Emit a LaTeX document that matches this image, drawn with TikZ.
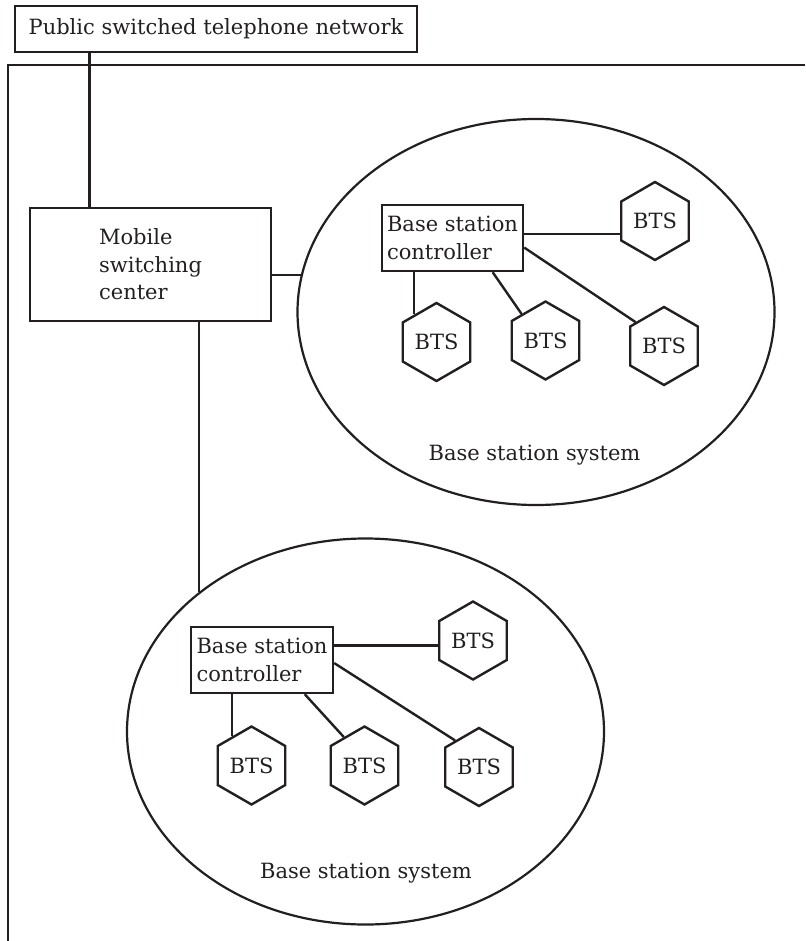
\documentclass[tikz,border=0pt]{standalone}
\usepackage{fontspec}
\setmainfont{DejaVu Serif}
\usetikzlibrary{shapes.geometric,calc}
\definecolor{ink}{RGB}{35,31,32}
\begin{document}
\begin{tikzpicture}[x=1pt,y=-1pt,
  every node/.style={text=ink, font=\fontsize{21}{27.5}\selectfont},
  box/.style={draw=ink, line width=2.4pt, rectangle, inner sep=0pt, align=left},
  bts/.style={draw=ink, line width=2.4pt, regular polygon, regular polygon sides=6,
    shape border rotate=30, minimum size=78pt, inner sep=0pt},
  link/.style={draw=ink, line width=2.4pt},
  bss/.style={draw=ink, line width=2.2pt, ellipse, minimum width=477pt,
    minimum height=386pt, inner sep=0pt}]
\useasboundingbox (0,0) rectangle (805,941);
\fill[white] (0,0) rectangle (805,941);

% network frame (top and left edges)
\draw[link] (8,941) -- (8,65) -- (805,65);

% public network and switching center
\node[box, minimum width=402pt, minimum height=46pt] (pstn) at (216,29)
  {Public switched telephone network};
\node[box, minimum width=241pt, minimum height=113pt] (msc) at (150.5,264.5)
  {Mobile\\switching\\center};
\draw[link] ($(pstn.south west)!0.187!(pstn.south east)$) coordinate (p1)
  -- (p1 |- msc.north);

% upper base station system
\node[bss] (bssA) at (536,312) {};
\node[box, minimum width=141pt, minimum height=66pt] (bscA) at (452.5,238)
  {Base station\\controller};
\node[bts] (btsA1) at (655,221) {BTS};
\node[bts] (btsA2) at (436.5,342) {BTS};
\node[bts] (btsA3) at (545.5,340.5) {BTS};
\node[bts] (btsA4) at (664,346) {BTS};
\node (lblA) at (534.5,455) {Base station system};

\draw[link] ($(bscA.north east)!0.44!(bscA.south east)$) coordinate (a1)
  -- (a1 -| btsA1.180);
\draw[link] (btsA2.129) -- (btsA2.129 |- bscA.south);
\draw[link] ($(bscA.south west)!0.78!(bscA.south east)$) -- (btsA3.132);
\draw[link] ($(bscA.north east)!0.64!(bscA.south east)$) -- (btsA4.140);

% lower base station system
\node[bss] (bssB) at (365.5,731.5) {};
\node[box, minimum width=142pt, minimum height=66pt] (bscB) at (262,660)
  {Base station\\controller};
\node[bts] (btsB1) at (473,640.5) {BTS};
\node[bts] (btsB2) at (251.5,765.5) {BTS};
\node[bts] (btsB3) at (364.5,765.5) {BTS};
\node[bts] (btsB4) at (479,767) {BTS};
\node (lblB) at (366,873) {Base station system};

\draw[link] ($(bscB.north east)!0.29!(bscB.south east)$) coordinate (b1)
  -- (b1 -| btsB1.180);
\draw[link] (btsB2.124) -- (btsB2.124 |- bscB.south);
\draw[link] ($(bscB.south west)!0.796!(bscB.south east)$) -- (btsB3.126);
\draw[link] ($(bscB.north east)!0.545!(bscB.south east)$) -- (btsB4.132);

% switching center to both base station systems
\draw[link] (bssA.171) -- (bssA.171 -| msc.east);
\draw[link] (bssB.140) -- (bssB.140 |- msc.south);
\end{tikzpicture}
\end{document}
